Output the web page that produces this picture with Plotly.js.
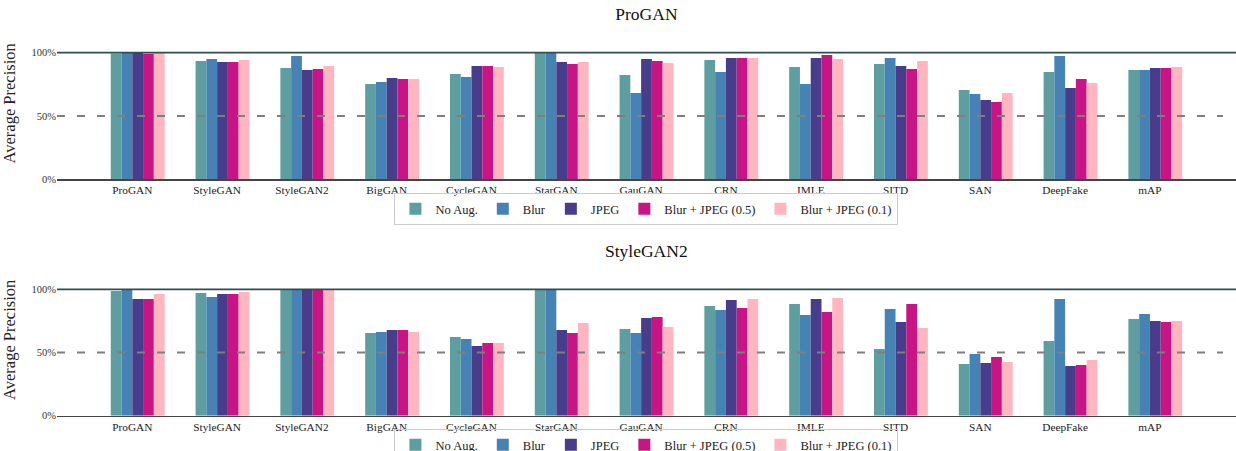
<!DOCTYPE html>
<html>
<head>
<meta charset="utf-8">
<script src="https://cdn.plot.ly/plotly-3.0.1.min.js"></script>
<style>
html,body{margin:0;padding:0;background:#fff;overflow:hidden;width:1236px;height:451px;}
#chart{width:1236px;height:480px;}
</style>
</head>
<body>
<div id="chart"></div>
<script>
// ---- data ----
const categories = ["ProGAN","StyleGAN","StyleGAN2","BigGAN","CycleGAN","StarGAN","GauGAN","CRN","IMLE","SITD","SAN","DeepFake","mAP"];
const seriesNames = ["No Aug.","Blur","JPEG","Blur + JPEG (0.5)","Blur + JPEG (0.1)"];
const panelTitles = ["ProGAN","StyleGAN2"];
const yTickVals = [0, 50, 100];
const yTickText = ["0%", "50%", "100%"];

// Top panel (trained on ProGAN), average precision in %
const proNoAug = [99.3, 93.4, 87.9, 75.3, 83.2, 100.0, 82.4, 94.2, 88.7, 91.1, 70.5, 84.7, 86.3];
const proBlur  = [100.0, 95.0, 97.4, 76.8, 80.8, 100.0, 68.2, 84.7, 75.3, 95.8, 67.4, 97.4, 86.3];
const proJpeg  = [99.9, 92.6, 86.3, 80.0, 89.5, 92.6, 95.0, 95.8, 95.8, 89.5, 62.6, 72.1, 87.9];
const proBJ05  = [99.1, 92.6, 87.1, 79.2, 89.5, 91.1, 93.4, 95.8, 98.2, 87.1, 61.1, 79.2, 87.9];
const proBJ01  = [100.0, 94.2, 89.5, 79.2, 88.7, 92.6, 91.8, 95.8, 95.0, 93.4, 68.2, 76.1, 88.7];

// Bottom panel (trained on StyleGAN2)
const sg2NoAug = [98.7, 97.1, 100.0, 65.4, 62.3, 100.0, 68.6, 86.8, 88.4, 52.8, 40.9, 59.1, 76.5];
const sg2Blur  = [100.0, 93.9, 100.0, 66.2, 60.7, 100.0, 65.4, 83.6, 79.7, 84.4, 48.8, 92.3, 80.5];
const sg2Jpeg  = [92.3, 96.3, 100.0, 67.8, 55.1, 67.8, 77.3, 91.6, 92.3, 74.1, 41.7, 39.3, 74.9];
const sg2BJ05  = [92.3, 96.3, 100.0, 67.8, 57.5, 65.4, 78.1, 85.2, 82.1, 88.4, 46.4, 40.1, 74.1];
const sg2BJ01  = [96.3, 97.9, 100.0, 66.2, 57.5, 73.4, 70.2, 92.3, 93.1, 69.4, 42.5, 44.1, 74.9];

// ---- styles ----
const colors = ["#5F9EA0", "#4682B4", "#483D8B", "#C71585", "#FFB6C1"];
const FONT = "Liberation Serif, Times New Roman, serif";
const barW = 0.127;
const W = 1236, H = 480;   // figure is taller than the window: bottom legend box is cut off as in the original

const topSeries = [proNoAug, proBlur, proJpeg, proBJ05, proBJ01];
const botSeries = [sg2NoAug, sg2Blur, sg2Jpeg, sg2BJ05, sg2BJ01];

const traces = [];
topSeries.forEach((vals, k) => {
  traces.push({
    type: "bar", x: categories, y: vals, name: seriesNames[k],
    width: barW, offset: (k - 2) * barW,
    marker: {color: colors[k], line: {width: 0}},
    xaxis: "x", yaxis: "y", legend: "legend", hoverinfo: "x+y+name"
  });
});
botSeries.forEach((vals, k) => {
  traces.push({
    type: "bar", x: categories, y: vals, name: seriesNames[k],
    width: barW, offset: (k - 2) * barW,
    marker: {color: colors[k], line: {width: 0}},
    xaxis: "x2", yaxis: "y2", legend: "legend2", hoverinfo: "x+y+name"
  });
});

const py = p => 1 - p / H;
const xDom = [57 / W, 1];
const yDomTop = [py(179.3), py(27.4)];
const yDomBot = [py(415.7), py(264)];
const xRange = [-0.888, 13.015];

function xax(anchor) {
  return {
    domain: xDom, anchor: anchor, type: "category", range: xRange,
    showline: true, linecolor: "#444", linewidth: 1.6, ticks: "", showgrid: false,
    zeroline: false, tickfont: {family: FONT, size: 11.3, color: "#222"}, automargin: false
  };
}
function yax(anchor, dom) {
  return {
    domain: dom, anchor: anchor, range: [0, 120], tickvals: yTickVals, ticktext: yTickText,
    showline: false, showgrid: false, zeroline: false, ticks: "",
    tickfont: {family: FONT, size: 10.5, color: "#333"}, automargin: false,
    title: {text: "Average Precision", font: {family: FONT, size: 16.5, color: "#222"}}
  };
}

function refLines(xr, yr) {
  return [
    {type: "line", xref: xr + " domain", yref: yr, x0: 0, x1: 1, y0: 100, y1: 100,
     line: {color: "#2F4F4F", width: 1.8}, layer: "above"},
    {type: "line", xref: xr + " domain", yref: yr, x0: 0, x1: 0.989, y0: 50, y1: 50,
     line: {color: "#7f7f7f", width: 2, dash: "8px,12px"}, layer: "above"}
  ];
}

const legendBase = {
  orientation: "h", xref: "paper", yref: "paper", x: 0.523, xanchor: "center", yanchor: "top",
  bgcolor: "rgba(255,255,255,0)", bordercolor: "#cccccc", borderwidth: 1,
  font: {family: FONT, size: 12.5, color: "#222"}, traceorder: "normal"
};

const layout = {
  width: W, height: H,
  margin: {l: 0, r: 0, t: 0, b: 0},
  paper_bgcolor: "#ffffff", plot_bgcolor: "#ffffff",
  barmode: "overlay", showlegend: true,
  title: {text: panelTitles[0], x: 0.523, xref: "paper", xanchor: "center", y: py(14), yanchor: "middle",
          font: {family: FONT, size: 17.5, color: "#111"}},
  xaxis: xax("y"), yaxis: yax("x", yDomTop),
  xaxis2: xax("y2"), yaxis2: yax("x2", yDomBot),
  legend: Object.assign({}, legendBase, {y: py(193)}),
  legend2: Object.assign({}, legendBase, {y: py(429)}),
  shapes: refLines("x", "y").concat(refLines("x2", "y2")),
  annotations: [{text: panelTitles[1], xref: "paper", yref: "paper", x: 0.523, y: py(251),
                 xanchor: "center", yanchor: "middle", showarrow: false,
                 font: {family: FONT, size: 17.5, color: "#111"}}]
};

Plotly.newPlot("chart", traces, layout, {displayModeBar: false, staticPlot: true});
</script>
</body>
</html>
